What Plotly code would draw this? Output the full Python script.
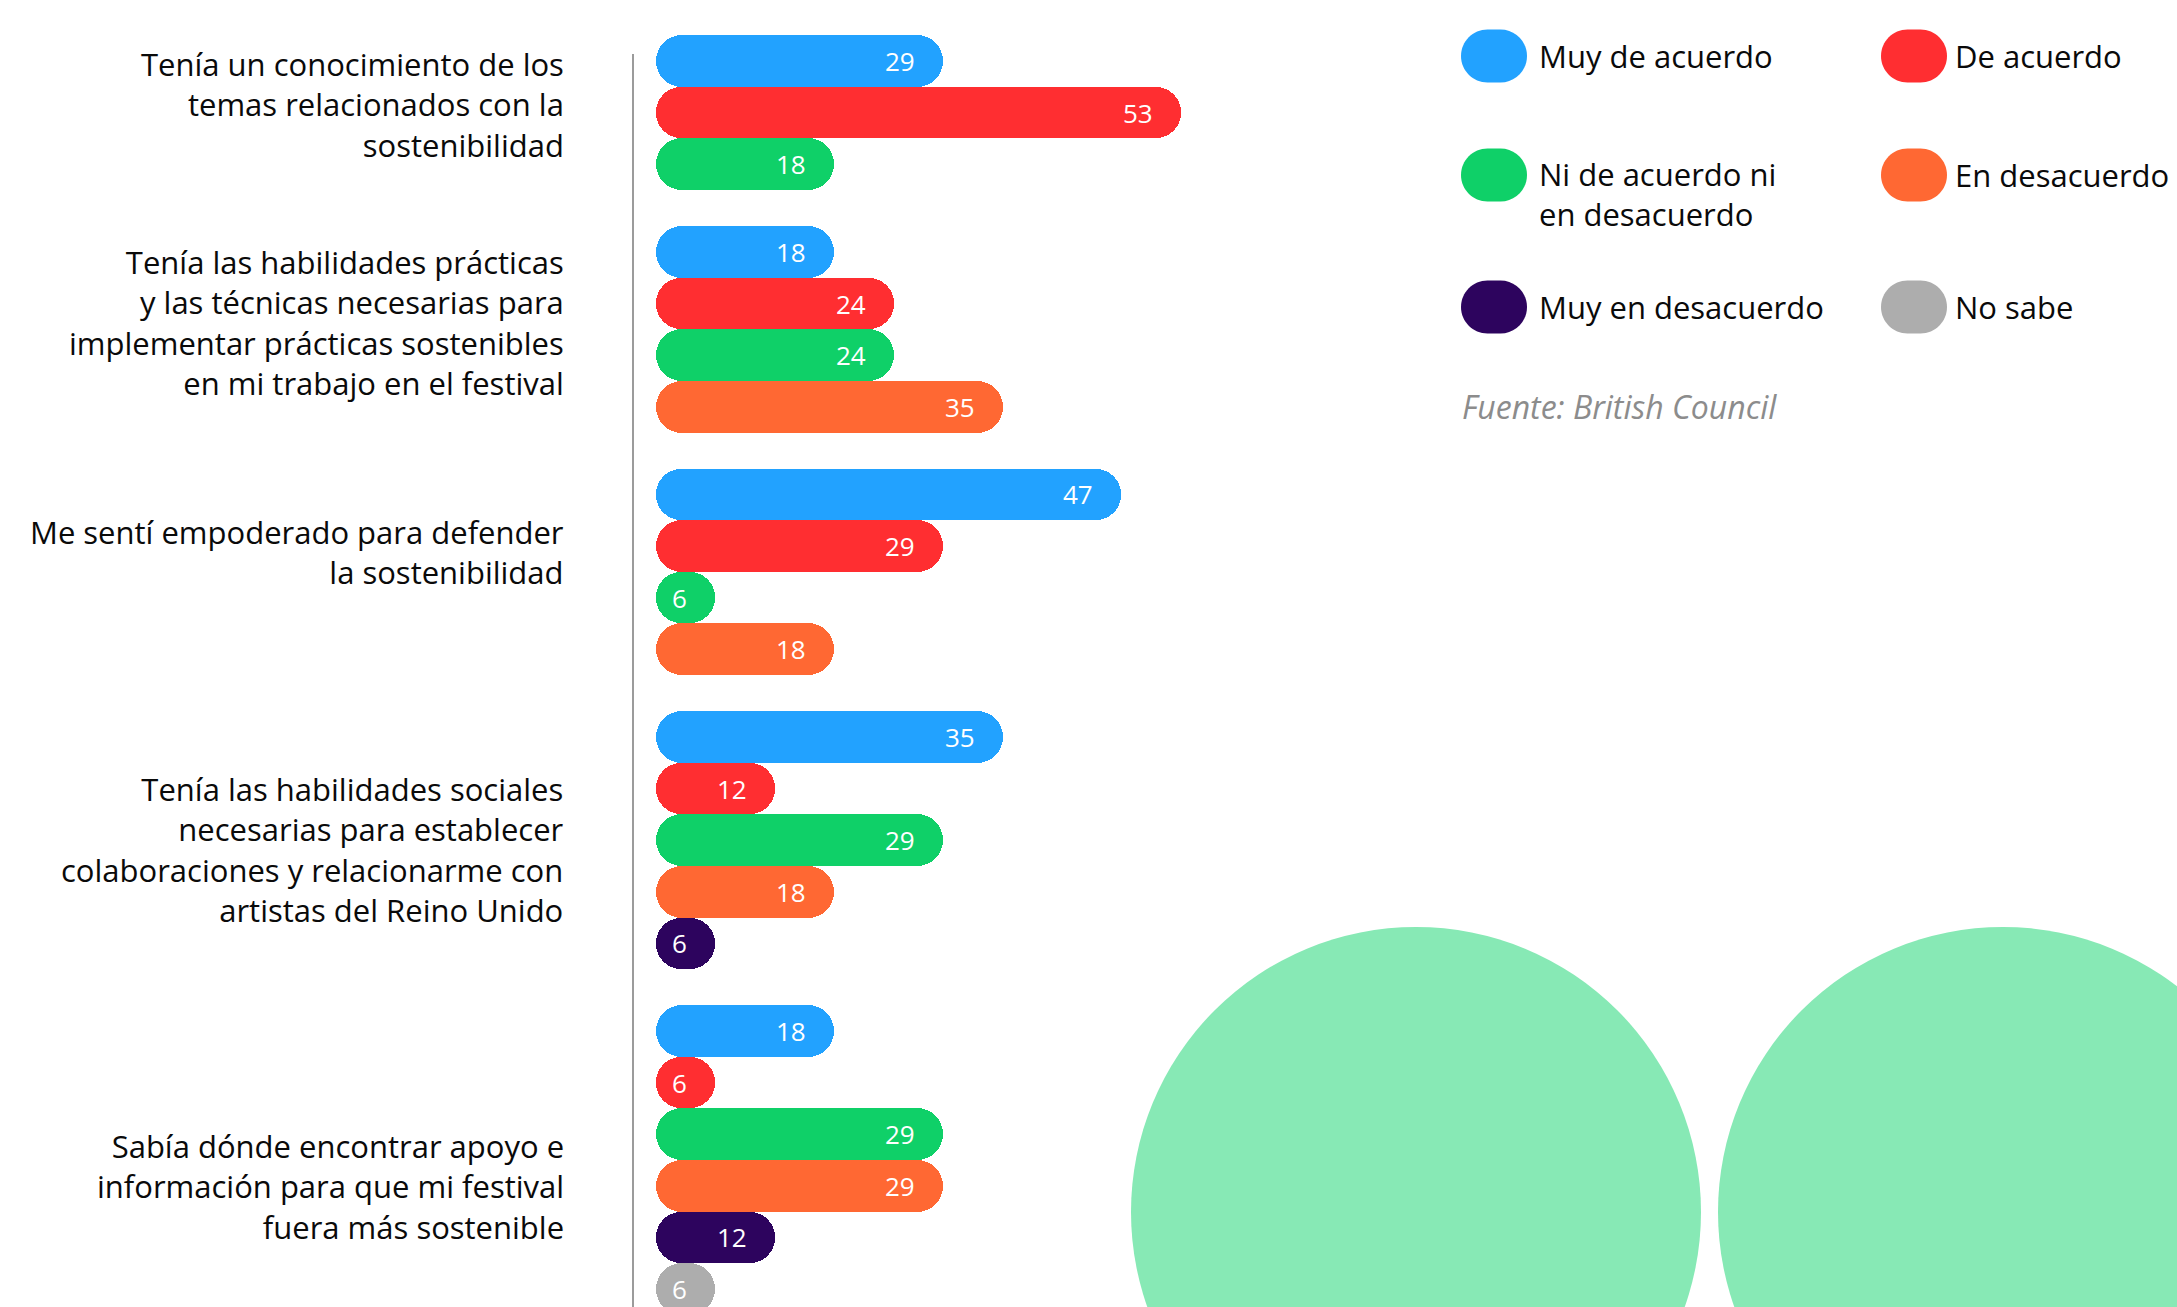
import plotly.graph_objects as go

# ---------------- data ----------------
categories = [
    "Tenía un conocimiento de los<br>temas relacionados con la<br>sostenibilidad",
    "Tenía las habilidades prácticas<br>y las técnicas necesarias para<br>implementar prácticas sostenibles<br>en mi trabajo en el festival",
    "Me sentí empoderado para defender<br>la sostenibilidad",
    "Tenía las habilidades sociales<br>necesarias para establecer<br>colaboraciones y relacionarme con<br>artistas del Reino Unido",
    "Sabía dónde encontrar apoyo e<br>información para que mi festival<br>fuera más sostenible",
]
series_names = ["Muy de acuerdo", "De acuerdo", "Ni de acuerdo ni<br>en desacuerdo",
                "En desacuerdo", "Muy en desacuerdo", "No sabe"]
muy_de_acuerdo = [29, 18, 47, 35, 18]
de_acuerdo = [53, 24, 29, 12, 6]
ni_de_acuerdo_ni_en_desacuerdo = [18, 24, 6, 29, 29]
en_desacuerdo = [None, 35, 18, 18, 29]
muy_en_desacuerdo = [None, None, None, 6, 12]
no_sabe = [None, None, None, None, 6]
source_text = "Fuente: British Council"

series_values = [muy_de_acuerdo, de_acuerdo, ni_de_acuerdo_ni_en_desacuerdo,
                 en_desacuerdo, muy_en_desacuerdo, no_sabe]

# ---------------- style / layout ----------------
W, H = 2177, 1307
colors = ["#22A2FF", "#FF2E31", "#0FD068", "#FF6833", "#2D045E", "#ADADAD"]
FONT = "Open Sans"
group_gap = 0.7          # extra slot space between groups
bar_x0_px = 656          # pixel where value 0 sits
px_per_unit = 9.9
first_center_px = 61
slot_px = 51.6
label_yshift = [8, 7, 20, -9, -26]   # fine vertical placement of category labels (px, up +)


def px(x):
    return x / W


def py(y):
    return 1 - y / H


# slot positions of every bar (computed from the data layout)
positions = [[None] * len(categories) for _ in series_values]
group_centers = []
cursor = 0.0
for g in range(len(categories)):
    first = cursor
    for s, vals in enumerate(series_values):
        if vals[g] is not None:
            positions[s][g] = cursor
            cursor += 1
    group_centers.append((first + cursor - 1) / 2)
    cursor += group_gap

fig = go.Figure()
annotations = []

for s, vals in enumerate(series_values):
    ys = [positions[s][g] for g in range(len(categories)) if vals[g] is not None]
    xs = [v for v in vals if v is not None]
    fig.add_trace(go.Bar(
        orientation="h", y=ys, x=xs, base=[0] * len(xs),
        width=1.0, marker=dict(color=colors[s], cornerradius="50%", line=dict(width=0)),
        hoverinfo="skip", showlegend=False))
    for v, yv in zip(xs, ys):
        annotations.append(dict(
            x=v, y=yv, xref="x", yref="y", text=str(v), showarrow=False,
            xanchor="right", yanchor="middle", xshift=-26,
            font=dict(family=FONT, size=26, color="white")))

# category labels
for g, lab in enumerate(categories):
    annotations.append(dict(
        x=px(566), y=group_centers[g], xref="paper", yref="y", text=lab,
        showarrow=False, xanchor="right", yanchor="middle", align="right",
        yshift=label_yshift[g],
        font=dict(family=FONT, size=31, color="#0A0A0A")))

shapes = []
# decorative circles
for cx in (1416, 2003):
    shapes.append(dict(type="circle", xref="paper", yref="paper",
                       x0=px(cx - 285), x1=px(cx + 285), y0=py(1212 + 285), y1=py(1212 - 285),
                       fillcolor="#87E9B5", line=dict(width=0), layer="below"))
# axis line
shapes.append(dict(type="line", xref="paper", yref="paper", x0=px(633), x1=px(633),
                   y0=py(54), y1=py(1320), line=dict(color="#9B9B9B", width=2)))


def pill_path(w, h):
    r = h / 2
    k = 0.5523 * r
    a, b = w / 2, h / 2
    return (f"M{-a + r},{-b} L{a - r},{-b} C{a - r + k},{-b} {a},{-k} {a},0 "
            f"C{a},{k} {a - r + k},{b} {a - r},{b} L{-a + r},{b} "
            f"C{-a + r - k},{b} {-a},{k} {-a},0 C{-a},{-k} {-a + r - k},{-b} {-a + r},{-b} Z")


# legend (2 columns x 3 rows)
leg_marker_cx = [1494, 1914]
leg_text_x = [1537, 1953]
leg_row_y = [56, 175, 307]
for i, name in enumerate(series_names):
    col, row = i % 2, i // 2
    shapes.append(dict(type="path", xref="paper", yref="paper",
                       xsizemode="pixel", ysizemode="pixel",
                       xanchor=px(leg_marker_cx[col]), yanchor=py(leg_row_y[row]),
                       path=pill_path(66, 53), fillcolor=colors[i], line=dict(width=0)))
    nlines = name.count("<br>") + 1
    annotations.append(dict(
        x=px(leg_text_x[col]), y=py(leg_row_y[row]), xref="paper", yref="paper",
        text=name, showarrow=False, xanchor="left", yanchor="middle", align="left",
        yshift=-(nlines - 1) * 19,
        font=dict(family=FONT, size=31, color="#0A0A0A")))

annotations.append(dict(
    x=px(1460), y=py(407), xref="paper", yref="paper", text=source_text,
    showarrow=False, xanchor="left", yanchor="middle",
    font=dict(family=FONT, size=32, color="#8C8C8C", style="italic")))

y_top = -first_center_px / slot_px
y_bottom = (H - first_center_px) / slot_px
fig.update_layout(
    width=W, height=H, margin=dict(l=0, r=0, t=0, b=0),
    paper_bgcolor="white", plot_bgcolor="rgba(0,0,0,0)",
    barmode="overlay", bargap=0, showlegend=False,
    xaxis=dict(domain=[px(bar_x0_px), 1], range=[0, (W - bar_x0_px) / px_per_unit],
               visible=False, fixedrange=True),
    yaxis=dict(domain=[0, 1], range=[y_bottom, y_top], visible=False, fixedrange=True),
    shapes=shapes, annotations=annotations,
)

fig.write_html("out.html", config={"displayModeBar": False},
               post_script="document.body.style.margin='0';document.body.style.overflow='hidden';")
